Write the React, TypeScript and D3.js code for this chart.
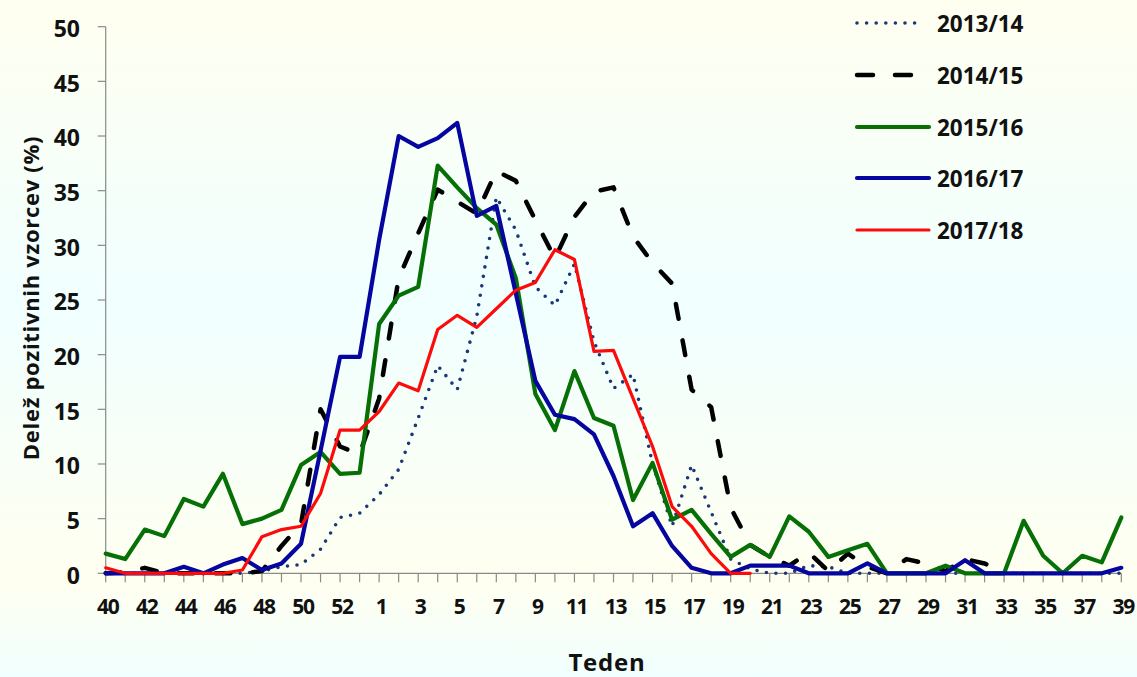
import React from "react";
import * as d3 from "d3";

// Categories: ISO weeks 40..53 then 1..39
const weeks = [
  "40", "41", "42", "43", "44", "45", "46", "47", "48", "49", "50", "51", "52", "53",
  "1", "2", "3", "4", "5", "6", "7", "8", "9", "10", "11", "12", "13", "14", "15", "16",
  "17", "18", "19", "20", "21", "22", "23", "24", "25", "26", "27", "28", "29", "30",
  "31", "32", "33", "34", "35", "36", "37", "38", "39",
];

const tickLabels = [
  "40", "42", "44", "46", "48", "50", "52", "1", "3", "5", "7", "9", "11", "13", "15",
  "17", "19", "21", "23", "25", "27", "29", "31", "33", "35", "37", "39",
];

const yTicks = [0, 5, 10, 15, 20, 25, 30, 35, 40, 45, 50];

const s2013_14 = [
  0, 0, 0, 0, 0, 0, 0, 0, 0.2, 0.6, 0.8, 2.2, 5.1, 5.5, 7.2, 9.5, 14.2, 19.0, 16.8, 23.5,
  34.4, 31.4, 26.2, 24.5, 28.3, 21.2, 16.9, 18.2, 10.0, 4.3, 9.9, 5.6, 1.3, 0.4, 0, 0,
  0.7, 0.6, 0, 0, 0, 0, 0, 0, 0, 0, 0, 0, 0, 0, 0, 0, 0,
];

const s2014_15: (number | null)[] = [
  0, 0.1, 0.5, 0, 0, 0, 0, 0, 0.2, 2.5, 4.5, 15.0, 11.6, 10.9, 16.0, 27.0, 31.1, 35.1,
  34.0, 32.9, 36.8, 35.9, 32.3, 28.8, 32.6, 34.9, 35.3, 30.8, 28.4, 26.5, 16.8, 15.2, 6.0,
  2.6, 1.5, 0.7, 1.9, 0.2, 1.8, 0.6, 0, 1.3, 0.9, 0.2, 1.3, 0.9, 0,
];

const s2015_16 = [
  1.8, 1.3, 4.0, 3.4, 6.8, 6.1, 9.1, 4.5, 5.0, 5.8, 9.9, 11.1, 9.1, 9.2, 22.8, 25.4, 26.2,
  37.3, 35.3, 33.4, 31.9, 27.0, 16.4, 13.1, 18.5, 14.2, 13.5, 6.7, 10.1, 4.9, 5.8, 3.6,
  1.5, 2.6, 1.5, 5.2, 3.8, 1.5, 2.1, 2.7, 0, 0, 0, 0.7, 0, 0, 0, 4.8, 1.6, 0, 1.6, 1.0, 5.1,
];

const s2016_17 = [
  0, 0, 0, 0, 0.6, 0, 0.8, 1.4, 0.3, 0.9, 2.7, 11.2, 19.8, 19.8, 30.5, 40.0, 39.0, 39.8,
  41.2, 32.7, 33.6, 25.6, 17.6, 14.5, 14.1, 12.7, 8.9, 4.3, 5.5, 2.5, 0.5, 0, 0, 0.7, 0.7,
  0.7, 0, 0, 0, 0.9, 0, 0, 0, 0, 1.2, 0, 0, 0, 0, 0, 0, 0, 0.5,
];

const s2017_18: (number | null)[] = [
  0.5, 0, 0, 0, 0, 0, 0, 0.3, 3.35, 4.0, 4.3, 7.3, 13.1, 13.1, 14.8, 17.4, 16.7, 22.3,
  23.6, 22.5, 24.2, 25.9, 26.6, 29.6, 28.7, 20.3, 20.4, 16.0, 11.6, 6.1, 4.3, 1.8, 0, 0,
];

const seriesNames = ["2013/14", "2014/15", "2015/16", "2016/17", "2017/18"];

type Style = { color: string; width: number; dash?: string; cap: "round" | "butt" };
const styles: Style[] = [
  { color: "#1A3776", width: 3.6, dash: "0 9.6", cap: "round" },
  { color: "#000000", width: 4.5, dash: "15 22", cap: "round" },
  { color: "#067006", width: 4.2, cap: "round" },
  { color: "#0505A0", width: 4.2, cap: "round" },
  { color: "#FF0A0A", width: 3.2, cap: "round" },
];

const FONT = "'Open Sans', 'DejaVu Sans', sans-serif";

export default function App() {
  const W = 1137;
  const H = 677;
  const x = d3.scalePoint<string>().domain(weeks).range([105.7, 1121.3]);
  const y = d3.scaleLinear().domain([0, 50]).range([573.3, 26.7]);
  const data: (number | null)[][] = [s2013_14, s2014_15, s2015_16, s2016_17, s2017_18];

  const line = d3
    .line<number | null>()
    .defined((d) => d !== null && d !== undefined)
    .x((_, i) => x(weeks[i]) as number)
    .y((d) => y(d as number));

  const x0 = x(weeks[0]) as number;
  const x1 = x(weeks[weeks.length - 1]) as number;
  const yBase = y(0);
  const axisColor = "#8a8a8a";

  const legendY = [23, 75, 127, 178, 230];

  return (
    <svg
      width={W}
      height={H}
      style={{ position: "absolute", left: 0, top: 0, display: "block" }}
      fontFamily={FONT}
    >
      <defs>
        <linearGradient id="bg" x1="0" y1="0" x2="0" y2="1">
          <stop offset="0%" stopColor="#FFFFF0" />
          <stop offset="45%" stopColor="#F0FFFF" />
          <stop offset="86%" stopColor="#FFFFF0" />
          <stop offset="100%" stopColor="#F0FFFF" />
        </linearGradient>
      </defs>
      <rect x={0} y={0} width={W} height={H} fill="url(#bg)" />

      {/* y axis */}
      <line x1={x0} x2={x0} y1={y(50)} y2={yBase} stroke={axisColor} strokeWidth={1.2} />
      {yTicks.map((t) => (
        <g key={"yt" + t}>
          <line x1={x0 - 8} x2={x0} y1={y(t)} y2={y(t)} stroke={axisColor} strokeWidth={1.2} />
          <text
            x={80}
            y={y(t) + 2}
            dy="0.36em"
            textAnchor="end"
            fontSize={23}
            fontWeight={700}
            fill="#111"
          >
            {t}
          </text>
        </g>
      ))}

      {/* x axis */}
      <line x1={x0} x2={x1} y1={yBase} y2={yBase} stroke={axisColor} strokeWidth={1.2} />
      {weeks.map((w) => (
        <line
          key={"xt" + w}
          x1={x(w) as number}
          x2={x(w) as number}
          y1={yBase}
          y2={yBase + 9}
          stroke={axisColor}
          strokeWidth={1.2}
        />
      ))}
      {tickLabels.map((l) => (
        <text
          key={"xl" + l}
          x={(x(l) as number) + 2}
          y={606}
          dy="0.36em"
          textAnchor="middle"
          fontSize={21}
          fontWeight={700}
          fill="#111"
          letterSpacing={-1.2}
        >
          {l}
        </text>
      ))}

      {/* axis titles */}
      <text
        transform={`translate(31,${298}) rotate(-90)`}
        textAnchor="middle"
        dy="0.36em"
        fontSize={22}
        fontWeight={700}
        fill="#111"
        letterSpacing={0.7}
      >
        Delež pozitivnih vzorcev (%)
      </text>
      <text
        x={607}
        y={662}
        dy="0.36em"
        textAnchor="middle"
        fontSize={24}
        fontWeight={700}
        fill="#111"
        letterSpacing={0.8}
      >
        Teden
      </text>

      {/* series */}
      {data.map((vals, si) => {
        const st = styles[si];
        return (
          <path
            key={"s" + si}
            d={line(vals) || ""}
            fill="none"
            stroke={st.color}
            strokeWidth={st.width}
            strokeDasharray={st.dash}
            strokeLinecap={st.cap}
            strokeLinejoin="round"
          />
        );
      })}

      {/* legend */}
      {seriesNames.map((n, si) => {
        const st = styles[si];
        const ly = legendY[si];
        const lx2 = si === 0 ? 922 : si === 1 ? 913 : 929;
        return (
          <g key={"lg" + n}>
            <line
              x1={857}
              x2={lx2}
              y1={ly}
              y2={ly}
              stroke={st.color}
              strokeWidth={st.width}
              strokeDasharray={si === 1 ? "16 22" : st.dash}
              strokeLinecap={st.cap}
            />
            <text x={937} y={ly + 1} dy="0.36em" fontSize={22.5} fontWeight={700} fill="#111">
              {n}
            </text>
          </g>
        );
      })}
    </svg>
  );
}
